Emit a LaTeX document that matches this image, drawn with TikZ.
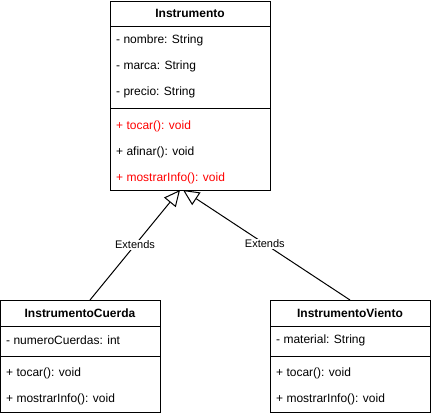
\documentclass[tikz,border=0pt]{standalone}
\usepackage{fontspec}
\setmainfont{Liberation Sans}
\usetikzlibrary{arrows.meta}
\definecolor{metred}{RGB}{255,0,0}
\tikzset{
	classbox/.style={draw, line width=1pt, fill=white, anchor=north west, inner sep=0pt},
	title/.style={font=\fontsize{12}{14}\selectfont\bfseries},
	member/.style={anchor=west, inner sep=0pt, font=\fontsize{12}{14}\selectfont},
	extends/.style={line width=1pt, -{Triangle[open, length=16pt, width=15pt, line width=1pt]}},
	lbl/.style={fill=white, inner sep=1pt, font=\fontsize{11}{13}\selectfont}
}
\begin{document}
\begin{tikzpicture}[x=1pt, y=-1pt]
			%%%%% START %%%%%
			\useasboundingbox (0, 0) rectangle (431, 416);
			
			% Instrumento
			\node[classbox, minimum width=160pt, minimum height=189pt] (instr) at (110, 1) {};
			\node[title] (instrT) at (190, 13.5) {Instrumento};
			\draw[line width=1pt] (110, 26) -- (270, 26);
			\node[member] (nombre) at (116, 40) {- nombre: String};
			\node[member] (marca) at (116, 66) {- marca: String};
			\node[member] (precio) at (116, 92) {- precio: String};
			\draw[line width=1pt] (110, 108) -- (270, 108);
			\node[member, text=metred] (tocar) at (116, 126) {+ tocar(): void};
			\node[member] (afinar) at (116, 152) {+ afinar(): void};
			\node[member, text=metred] (mostrar) at (116, 178) {+ mostrarInfo(): void};
			
			% InstrumentoCuerda
			\node[classbox, minimum width=160pt, minimum height=112pt] (cuerda) at (0, 300) {};
			\node[title] (cuerdaT) at (80, 313) {InstrumentoCuerda};
			\draw[line width=1pt] (0, 326) -- (160, 326);
			\node[member] (numCuerdas) at (6, 340) {- numeroCuerdas: int};
			\draw[line width=1pt] (0, 356) -- (160, 356);
			\node[member] (cTocar) at (6, 373) {+ tocar(): void};
			\node[member] (cMostrar) at (6, 399) {+ mostrarInfo(): void};
			
			% InstrumentoViento
			\node[classbox, minimum width=160pt, minimum height=112pt] (viento) at (270, 300) {};
			\node[title] (vientoT) at (350, 313) {InstrumentoViento};
			\draw[line width=1pt] (270, 326) -- (430, 326);
			\node[member] (material) at (276, 340) {- material: String};
			\draw[line width=1pt] (270, 356) -- (430, 356);
			\node[member] (vTocar) at (276, 373) {+ tocar(): void};
			\node[member] (vMostrar) at (276, 399) {+ mostrarInfo(): void};
			
			% herencia
			\coordinate (cuerdaTop) at (90, 300);
			\coordinate (vientoTop) at (350, 300);
			\coordinate (tipL) at (180, 190);
			\coordinate (tipR) at (183, 190);
			\draw[extends] (cuerdaTop) -- node[lbl] (extL) {Extends} (tipL);
			\draw[extends] (vientoTop) -- node[lbl, pos=0.51] (extR) {Extends} (tipR);
			
			%%%%% END %%%%%
		\end{tikzpicture}
\end{document}
